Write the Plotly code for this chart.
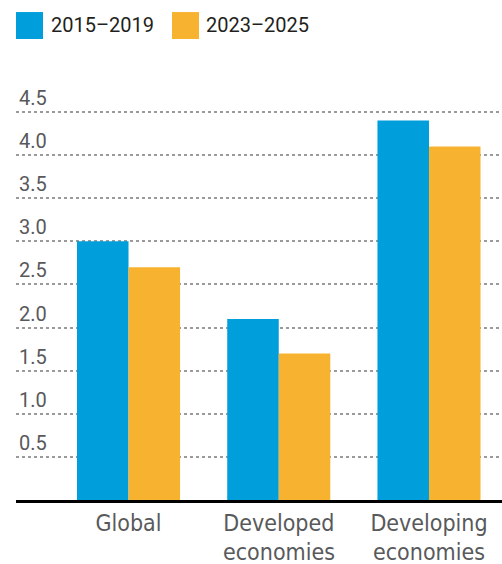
import plotly.graph_objects as go

categories = ["Global", "Developed", "Developing"]
category_line2 = ["", "economies", "economies"]
series_names = ["2015–2019", "2023–2025"]
values_2015_2019 = [3.0, 2.1, 4.4]
values_2023_2025 = [2.7, 1.7, 4.1]
ytick_vals = [0.5, 1.0, 1.5, 2.0, 2.5, 3.0, 3.5, 4.0, 4.5]
ytick_text = ["0.5", "1.0", "1.5", "2.0", "2.5", "3.0", "3.5", "4.0", "4.5"]

BLUE = "#009EDB"
ORANGE = "#F7B32F"
NARROW = "Noto Sans Condensed, DejaVu Sans Condensed, Roboto, sans-serif"
DIGITS = "Roboto, Liberation Sans, sans-serif"

fig = go.Figure()
fig.add_trace(go.Bar(x=categories, y=values_2015_2019, name=series_names[0],
                     marker=dict(color=BLUE, line=dict(width=0)), showlegend=False))
fig.add_trace(go.Bar(x=categories, y=values_2023_2025, name=series_names[1],
                     marker=dict(color=ORANGE, line=dict(width=0)), showlegend=False))

# legend drawn as large swatches + text
legend_items = [(series_names[0], BLUE, 0.0, 0.0679), (series_names[1], ORANGE, 0.321, 0.3868)]
for name, col, sx, tx in legend_items:
    fig.add_shape(type="rect", xref="paper", yref="paper", x0=sx, x1=sx + 0.0556,
                  y0=1.0477, y1=1.109, fillcolor=col, line=dict(width=0))
    fig.add_annotation(xref="paper", yref="paper", x=tx, y=1.0795, text=name,
                       showarrow=False, xanchor="left", yanchor="middle",
                       font=dict(family=DIGITS, size=20, color="#231f20"))

# second line of category labels
for cat, l2 in zip(categories, category_line2):
    if l2:
        fig.add_annotation(xref="x", yref="paper", x=cat, y=-0.118, text=l2,
                           showarrow=False, xanchor="center", yanchor="middle",
                           font=dict(family=NARROW, size=23, color="#58595b"))

fig.update_layout(
    width=502, height=564,
    margin=dict(l=16, r=0, t=60, b=64),
    paper_bgcolor="white", plot_bgcolor="white",
    barmode="group", bargap=0.314, bargroupgap=0,
    xaxis=dict(range=[-0.749, 2.486], showline=True, linecolor="black", linewidth=3,
               showgrid=False, ticks="", zeroline=False, automargin=False,
               tickfont=dict(family=NARROW, size=23, color="#58595b")),
    yaxis=dict(range=[0, 5.103], tickvals=ytick_vals, ticktext=ytick_text,
               ticklabelposition="inside top", showgrid=True, gridcolor="#9a9a9a",
               gridwidth=2, griddash="dot", zeroline=False, showline=False, ticks="",
               automargin=False,
               tickfont=dict(family=DIGITS, size=20, color="#58595b")),
)

fig.write_html("out.html", config={"displayModeBar": False},
               post_script="document.body.style.margin='0';document.body.style.overflow='hidden';")
